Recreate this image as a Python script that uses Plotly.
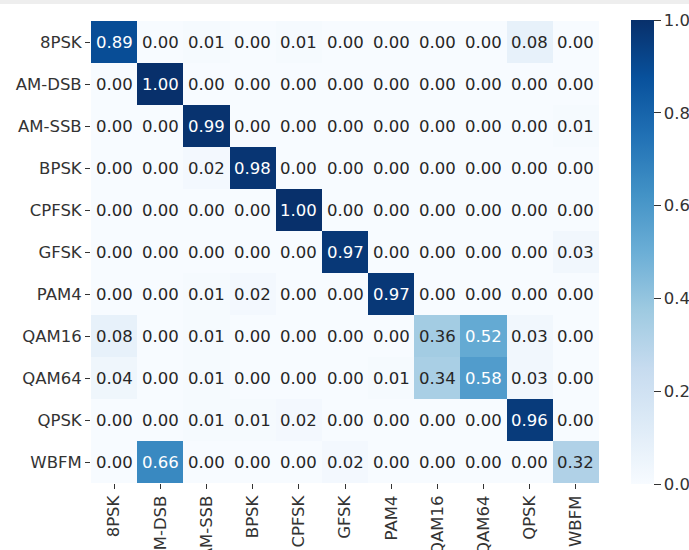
import numpy as np
import plotly.graph_objects as go

# Modulation classes (rows = true label, columns = predicted label)
classes = ["8PSK", "AM-DSB", "AM-SSB", "BPSK", "CPFSK", "GFSK",
           "PAM4", "QAM16", "QAM64", "QPSK", "WBFM"]

row_8psk   = [0.89, 0.00, 0.01, 0.00, 0.01, 0.00, 0.00, 0.00, 0.00, 0.08, 0.00]
row_amdsb  = [0.00, 1.00, 0.00, 0.00, 0.00, 0.00, 0.00, 0.00, 0.00, 0.00, 0.00]
row_amssb  = [0.00, 0.00, 0.99, 0.00, 0.00, 0.00, 0.00, 0.00, 0.00, 0.00, 0.01]
row_bpsk   = [0.00, 0.00, 0.02, 0.98, 0.00, 0.00, 0.00, 0.00, 0.00, 0.00, 0.00]
row_cpfsk  = [0.00, 0.00, 0.00, 0.00, 1.00, 0.00, 0.00, 0.00, 0.00, 0.00, 0.00]
row_gfsk   = [0.00, 0.00, 0.00, 0.00, 0.00, 0.97, 0.00, 0.00, 0.00, 0.00, 0.03]
row_pam4   = [0.00, 0.00, 0.01, 0.02, 0.00, 0.00, 0.97, 0.00, 0.00, 0.00, 0.00]
row_qam16  = [0.08, 0.00, 0.01, 0.00, 0.00, 0.00, 0.00, 0.36, 0.52, 0.03, 0.00]
row_qam64  = [0.04, 0.00, 0.01, 0.00, 0.00, 0.00, 0.01, 0.34, 0.58, 0.03, 0.00]
row_qpsk   = [0.00, 0.00, 0.01, 0.01, 0.02, 0.00, 0.00, 0.00, 0.00, 0.96, 0.00]
row_wbfm   = [0.00, 0.66, 0.00, 0.00, 0.00, 0.02, 0.00, 0.00, 0.00, 0.00, 0.32]

matrix = np.array([row_8psk, row_amdsb, row_amssb, row_bpsk, row_cpfsk, row_gfsk,
                   row_pam4, row_qam16, row_qam64, row_qpsk, row_wbfm])

colorbar_ticks = [0.0, 0.2, 0.4, 0.6, 0.8, 1.0]

# ColorBrewer "Blues" (9 classes)
blues_hex = ["#f7fbff", "#deebf7", "#c6dbef", "#9ecae1", "#6baed6",
             "#4292c6", "#2171b5", "#08519c", "#08306b"]
blues_rgb = np.array([[int(h[i:i + 2], 16) for i in (1, 3, 5)] for h in blues_hex]) / 255.0
stops = np.linspace(0, 1, len(blues_hex))
colorscale = [[float(s), h] for s, h in zip(stops, blues_hex)]


def cell_rgb(v):
    return np.array([np.interp(v, stops, blues_rgb[:, k]) for k in range(3)])


def luminance(rgb):
    lin = np.where(rgb <= 0.03928, rgb / 12.92, ((rgb + 0.055) / 1.055) ** 2.4)
    return 0.2126 * lin[0] + 0.7152 * lin[1] + 0.0722 * lin[2]


FONT = "DejaVu Sans"
FS = 16.5
DARK = "#333333"

fig = go.Figure()
fig.add_trace(go.Heatmap(
    z=matrix,
    x=classes,
    y=classes,
    zmin=0.0,
    zmax=1.0,
    colorscale=colorscale,
    showscale=True,
    hoverinfo="skip",
    colorbar=dict(
        x=(631 - 91) / 508,
        xanchor="left",
        xpad=0,
        ypad=0,
        y=0.5,
        yanchor="middle",
        len=464,
        lenmode="pixels",
        thickness=23,
        outlinewidth=0,
        tickvals=colorbar_ticks,
        ticktext=[f"{t:.1f}" for t in colorbar_ticks],
        ticks="outside",
        ticklen=7,
        tickwidth=1,
        tickcolor=DARK,
        tickfont=dict(family=FONT, size=FS, color=DARK),
    ),
))

# Per-cell value labels, light text on dark cells
annotations = []
for i, true_lbl in enumerate(classes):
    for j, pred_lbl in enumerate(classes):
        v = matrix[i, j]
        color = "#262626" if luminance(cell_rgb(v)) > 0.408 else "#ffffff"
        annotations.append(dict(
            x=pred_lbl, y=true_lbl, xref="x", yref="y",
            text=f"{v:.2f}", showarrow=False,
            font=dict(family=FONT, size=FS, color=color),
        ))

fig.update_layout(
    width=689,
    height=550,
    template="none",
    margin=dict(l=91, r=90, t=21, b=67, autoexpand=False),
    paper_bgcolor="white",
    plot_bgcolor="white",
    annotations=annotations,
    font=dict(family=FONT, size=FS, color=DARK),
    shapes=[dict(
        type="rect", xref="paper", yref="paper",
        x0=-91 / 508, x1=(689 - 91) / 508,
        y0=1 + 17 / 462, y1=1 + 21 / 462,
        fillcolor="#eeeeee", line=dict(width=0), layer="below",
    )],
)

fig.update_xaxes(
    automargin=False,
    showgrid=False,
    zeroline=False,
    showline=False,
    ticks="outside",
    ticklen=5,
    tickwidth=1,
    tickcolor=DARK,
    tickangle=-90,
    tickfont=dict(family=FONT, size=FS, color=DARK),
)
fig.update_yaxes(
    automargin=False,
    autorange="reversed",
    showgrid=False,
    zeroline=False,
    showline=False,
    ticks="outside",
    ticklen=5,
    tickwidth=1,
    tickcolor=DARK,
    tickfont=dict(family=FONT, size=FS, color=DARK),
)

fig.write_html("out.html")
